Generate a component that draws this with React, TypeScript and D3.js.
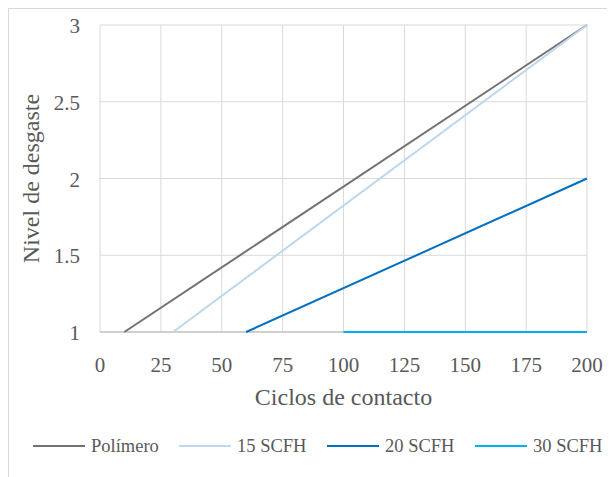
import { useEffect, useRef } from 'react'
import * as d3 from 'd3'

// x positions where each series starts and ends (ciclos de contacto)
const seriesNames = ['Polímero', '15 SCFH', '20 SCFH', '30 SCFH']
const seriesColors = ['#757171', '#bdd7ee', '#0070c0', '#00b0f0']
const polimero = [{ x: 10, y: 1 }, { x: 200, y: 3 }]
const scfh15 = [{ x: 30, y: 1 }, { x: 200, y: 3 }]
const scfh20 = [{ x: 60, y: 1 }, { x: 200, y: 2 }]
const scfh30 = [{ x: 100, y: 1 }, { x: 200, y: 1 }]
const xTicks = [0, 25, 50, 75, 100, 125, 150, 175, 200]
const yTicks = [1, 1.5, 2, 2.5, 3]

type Pt = { x: number; y: number }

export default function App() {
  const svgRef = useRef<SVGSVGElement>(null)

  useEffect(() => {
    if (!svgRef.current) return
    const svg = d3.select(svgRef.current)
    svg.selectAll('*').remove()

    const font = 'Liberation Serif, DejaVu Serif, serif'
    const textColor = '#595959'
    const left = 92
    const right = 579
    const top = 17
    const bottom = 324

    // outer frame (right/bottom edges fall outside the window)
    svg.append('rect')
      .attr('x', 0.5).attr('y', 0.5)
      .attr('width', 640).attr('height', 500)
      .attr('fill', '#fff')
      .attr('stroke', '#d9d9d9')

    const x = d3.scaleLinear().domain([0, 200]).range([left, right])
    const y = d3.scaleLinear().domain([1, 3]).range([bottom, top])

    // gridlines
    svg.append('g').selectAll('line.v')
      .data(xTicks)
      .join('line')
      .attr('x1', d => x(d)).attr('x2', d => x(d))
      .attr('y1', top).attr('y2', bottom)
      .attr('stroke', '#d9d9d9')
      .attr('stroke-width', 1)

    svg.append('g').selectAll('line.h')
      .data(yTicks.filter(d => d !== 1))
      .join('line')
      .attr('x1', left).attr('x2', right)
      .attr('y1', d => y(d)).attr('y2', d => y(d))
      .attr('stroke', '#d9d9d9')
      .attr('stroke-width', 1)

    // x axis line
    svg.append('line')
      .attr('x1', left).attr('x2', right)
      .attr('y1', y(1)).attr('y2', y(1))
      .attr('stroke', '#bfbfbf')
      .attr('stroke-width', 1.5)

    const texts = svg.append('g').style('font-family', font).attr('fill', textColor)

    // tick labels
    texts.append('g').selectAll('text')
      .data(xTicks)
      .join('text')
      .attr('x', d => x(d))
      .attr('y', bottom + 40)
      .attr('text-anchor', 'middle')
      .attr('font-size', 21)
      .text(d => d)

    texts.append('g').selectAll('text')
      .data(yTicks)
      .join('text')
      .attr('x', left - 20)
      .attr('y', d => y(d) + 8)
      .attr('text-anchor', 'end')
      .attr('font-size', 21)
      .text(d => d)

    // axis titles
    texts.append('text')
      .attr('x', (left + right) / 2)
      .attr('y', 397)
      .attr('text-anchor', 'middle')
      .attr('font-size', 24)
      .text('Ciclos de contacto')

    texts.append('text')
      .attr('transform', `translate(31,${(top + bottom) / 2}) rotate(-90)`)
      .attr('text-anchor', 'middle')
      .attr('font-size', 24)
      .text('Nivel de desgaste')

    // series
    const line = d3.line<Pt>().x(d => x(d.x)).y(d => y(d.y))
    const allSeries = [polimero, scfh15, scfh20, scfh30]
    allSeries.forEach((data, i) => {
      svg.append('path')
        .datum(data)
        .attr('fill', 'none')
        .attr('stroke', seriesColors[i])
        .attr('stroke-width', 2)
        .attr('d', line)
    })

    // legend
    const legendX = [25, 171, 319, 467]
    const legendY = 438
    seriesNames.forEach((name, i) => {
      const g = svg.append('g').attr('transform', `translate(${legendX[i]},${legendY})`)
      g.append('line')
        .attr('x1', 0).attr('x2', 52)
        .attr('y1', 0).attr('y2', 0)
        .attr('stroke', seriesColors[i])
        .attr('stroke-width', 2)
      g.append('text')
        .attr('x', 58).attr('y', 6)
        .style('font-family', font)
        .attr('font-size', 18.5)
        .attr('fill', textColor)
        .text(name)
    })
  }, [])

  return <svg ref={svgRef} width={607} height={469} style={{ display: 'block' }} />
}
